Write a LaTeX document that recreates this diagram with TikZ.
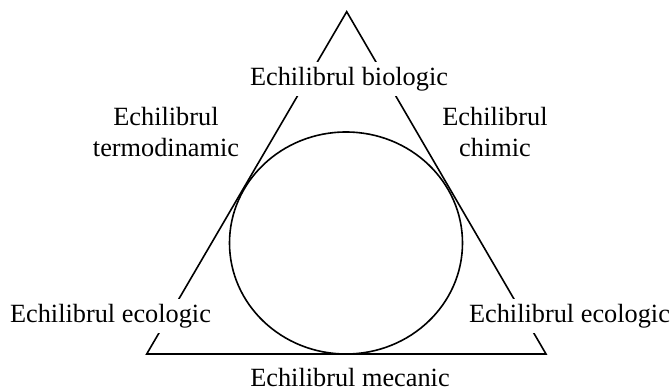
\documentclass[tikz,border=0pt]{standalone}
\usepackage{fontspec}
\usetikzlibrary{shapes.geometric}
\setmainfont{Liberation Serif}
\begin{document}
\begin{tikzpicture}[x=1pt,y=-1pt,
  lbl/.style={anchor=base,fill=white,inner xsep=3pt,inner ysep=5pt,font=\fontsize{26.3}{30.7}\selectfont,align=center},
  plainlbl/.style={anchor=base,inner sep=0pt,font=\fontsize{26.3}{30.7}\selectfont},
  shapeline/.style={draw=black,line width=1.6pt,line join=miter}]
\useasboundingbox (0,0) rectangle (672,391);
\coordinate (A) at (346.7,11.7);
\coordinate (B) at (146.7,354);
\coordinate (C) at (546,354);
\draw[shapeline] (A) -- (B) -- (C) -- cycle;
\node[shapeline,ellipse,minimum width=233pt,minimum height=222pt,inner sep=0pt] (circ) at (346,243) {};
\node[lbl] (bio) at (349,85) {Echilibrul biologic};
\node[lbl] (termo) at (166,156) {Echilibrul\\termodinamic};
\node[lbl] (chim) at (495,156) {Echilibrul\\chimic};
\node[lbl] (ecoL) at (110.5,322.7) {Echilibrul ecologic};
\node[lbl] (ecoR) at (569.5,322.7) {Echilibrul ecologic};
\node[plainlbl] (mec) at (350,386) {Echilibrul mecanic};
\end{tikzpicture}
\end{document}
